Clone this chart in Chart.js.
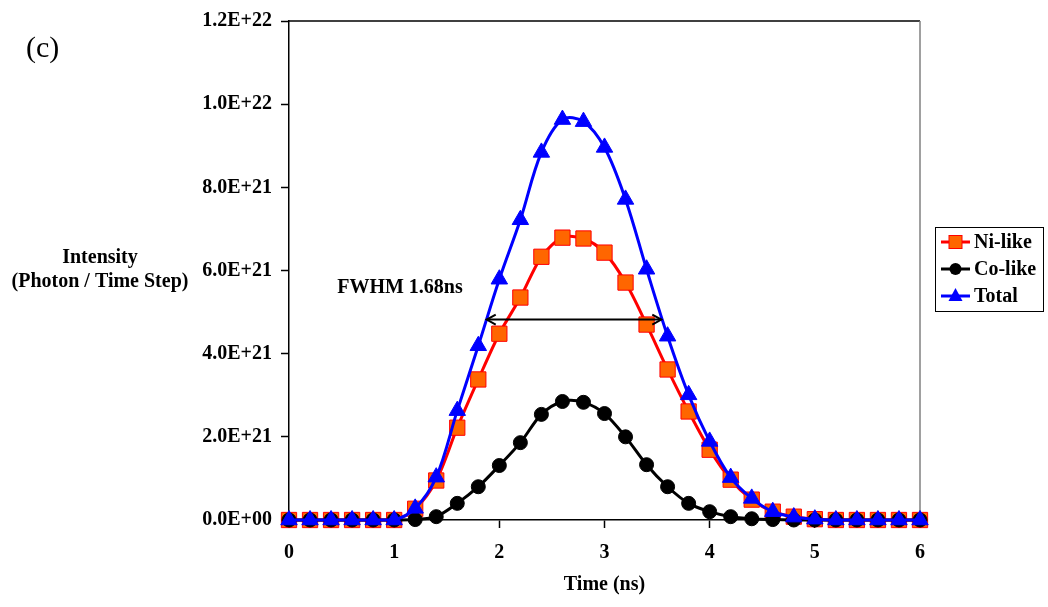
<!DOCTYPE html>
<html><head><meta charset="utf-8">
<script src="https://cdn.jsdelivr.net/npm/chart.js@4.4.1/dist/chart.umd.min.js"></script>
<style>html,body{margin:0;padding:0;background:#fff}</style>
</head><body>
<canvas id="c" width="1048" height="607"></canvas>
<script>
// Time (ns)
const times = [0,0.2,0.4,0.6,0.8,1.0,1.2,1.4,1.6,1.8,2.0,2.2,2.4,2.6,2.8,3.0,3.2,3.4,3.6,3.8,4.0,4.2,4.4,4.6,4.8,5.0,5.2,5.4,5.6,5.8,6.0];
// Intensity in units of 1E+21 photon / time step
const niLike = [0,0,0,0,0,0,0.27,0.95,2.22,3.38,4.48,5.35,6.33,6.79,6.77,6.43,5.71,4.70,3.62,2.61,1.69,0.97,0.49,0.20,0.08,0.02,0,0,0,0,0];
const coLike = [0,0,0,0,0,0,0.01,0.08,0.40,0.80,1.31,1.86,2.54,2.85,2.83,2.56,2.00,1.33,0.80,0.40,0.20,0.08,0.03,0.01,0,0,0,0,0,0,0];
const total  = [0,0,0,0,0,0,0.28,1.03,2.63,4.19,5.79,7.22,8.84,9.63,9.58,8.96,7.71,6.03,4.42,3.01,1.89,1.02,0.52,0.20,0.07,0.02,0,0,0,0,0];
const unit = 1e21;
const xTicks = [0,1,2,3,4,5,6];
const yTicks = [0,2e21,4e21,6e21,8e21,1e22,1.2e22];
const seriesNames = ['Ni-like','Co-like','Total'];
// FWHM annotation (ns, intensity)
const fwhmFrom = 1.88, fwhmTo = 3.54, fwhmLevel = 4.82e21;
const fwhmLabel = 'FWHM 1.68ns';

const pts = arr => times.map((t,i)=>({x:t, y:arr[i]*unit}));
function fmt(v){
  if (v === 0) return '0.0E+00';
  const e = Math.floor(Math.log10(v) + 1e-9);
  const m = v / Math.pow(10, e);
  return m.toFixed(1) + 'E+' + e;
}
const serif = 'Liberation Serif, Times New Roman, serif';

const decor = {
  id: 'decor',
  beforeDatasetsDraw(chart){
    const {ctx, chartArea:a} = chart;
    ctx.save();
    ctx.lineWidth = 1.5;
    ctx.strokeStyle = '#000';
    ctx.beginPath(); ctx.moveTo(a.left, a.top); ctx.lineTo(a.right, a.top); ctx.stroke();
    ctx.strokeStyle = '#808080';
    ctx.beginPath(); ctx.moveTo(a.right, a.top); ctx.lineTo(a.right, a.bottom); ctx.stroke();
    ctx.restore();
  },
  afterDatasetsDraw(chart){
    const {ctx, chartArea:a, scales:{x, y}} = chart;
    ctx.save();
    // FWHM arrow
    const x1 = x.getPixelForValue(fwhmFrom), x2 = x.getPixelForValue(fwhmTo), yy = y.getPixelForValue(fwhmLevel);
    ctx.strokeStyle = '#000'; ctx.lineWidth = 2;
    ctx.beginPath(); ctx.moveTo(x1, yy); ctx.lineTo(x2, yy); ctx.stroke();
    ctx.beginPath();
    ctx.moveTo(x1 + 9, yy - 5); ctx.lineTo(x1, yy); ctx.lineTo(x1 + 9, yy + 5);
    ctx.moveTo(x2 - 9, yy - 5); ctx.lineTo(x2, yy); ctx.lineTo(x2 - 9, yy + 5);
    ctx.stroke();

    ctx.fillStyle = '#000';
    ctx.textBaseline = 'middle';
    ctx.textAlign = 'center';
    ctx.font = 'bold 20px ' + serif;
    ctx.fillText(fwhmLabel, 400, 288);

    // axis titles
    ctx.fillText('Intensity', 100, 258);
    ctx.fillText('(Photon / Time Step)', 100, 282);
    ctx.fillText('Time (ns)', (a.left + a.right) / 2, 585);

    // panel label
    ctx.font = '30px ' + serif;
    ctx.textAlign = 'left';
    ctx.fillText('(c)', 26, 49);

    // legend
    ctx.lineWidth = 1;
    ctx.strokeStyle = '#000';
    ctx.strokeRect(935.5, 227.5, 108, 84);
    const rows = [242, 269, 296];
    chart.data.datasets.forEach((ds, i) => {
      const ry = rows[i];
      ctx.strokeStyle = ds.borderColor; ctx.lineWidth = 3;
      ctx.beginPath(); ctx.moveTo(941, ry); ctx.lineTo(970, ry); ctx.stroke();
      ctx.fillStyle = ds.pointBackgroundColor;
      ctx.strokeStyle = ds.pointBorderColor; ctx.lineWidth = 1;
      if (ds.pointStyle === 'rect') { ctx.fillRect(949, ry - 6.5, 13, 13); ctx.strokeRect(949, ry - 6.5, 13, 13); }
      else if (ds.pointStyle === 'circle') { ctx.beginPath(); ctx.arc(955.5, ry, 6, 0, Math.PI*2); ctx.fill(); }
      else { ctx.beginPath(); ctx.moveTo(955.5, ry - 8); ctx.lineTo(962.5, ry + 5); ctx.lineTo(948.5, ry + 5); ctx.closePath(); ctx.fill(); }
      ctx.fillStyle = '#000';
      ctx.font = 'bold 20px ' + serif;
      ctx.textAlign = 'left';
      ctx.fillText(ds.label, 974, ry + 1);
    });
    ctx.restore();
  }
};

new Chart(document.getElementById('c'), {
  type: 'line',
  data: {
    datasets: [
      { label: seriesNames[0], data: pts(niLike), borderColor: '#FF0000', backgroundColor: '#FF6600',
        pointBackgroundColor: '#FF6600', pointBorderColor: '#FF0000', pointBorderWidth: 1,
        pointStyle: 'rect', pointRadius: 10.8, borderWidth: 3, tension: 0.3, order: 3, clip: false },
      { label: seriesNames[1], data: pts(coLike), borderColor: '#000000', backgroundColor: '#000000',
        pointBackgroundColor: '#000000', pointBorderColor: '#000000', pointBorderWidth: 1,
        pointStyle: 'circle', pointRadius: 7, borderWidth: 3, tension: 0.3, order: 2, clip: false },
      { label: seriesNames[2], data: pts(total), borderColor: '#0000FF', backgroundColor: '#0000FF',
        pointBackgroundColor: '#0000FF', pointBorderColor: '#0000FF', pointBorderWidth: 1,
        pointStyle: 'triangle', pointRadius: 9.5, borderWidth: 3, tension: 0.35, order: 1, clip: false }
    ]
  },
  options: {
    responsive: false, animation: false, devicePixelRatio: 1,
    layout: { padding: { left: 0, right: 128, top: 18, bottom: 0 } },
    plugins: { legend: { display: false }, tooltip: { enabled: false } },
    elements: { point: { hoverRadius: 0 } },
    scales: {
      x: {
        type: 'linear', min: 0, max: 6,
        afterBuildTicks(s){ s.ticks = xTicks.map(v => ({value: v})); },
        ticks: { color: '#000', font: { family: serif, weight: 'bold', size: 20 }, padding: 13, maxRotation: 0 },
        grid: { drawOnChartArea: false, tickLength: 8, tickColor: '#000', tickWidth: 1.5 },
        border: { color: '#000', width: 1.5 },
        afterFit(s){ s.height = 87; }
      },
      y: {
        type: 'linear', min: 0, max: 1.2e22,
        afterBuildTicks(s){ s.ticks = yTicks.map(v => ({value: v})); },
        ticks: { color: '#000', font: { family: serif, weight: 'bold', size: 20 }, padding: 9, callback: fmt },
        grid: { drawOnChartArea: false, tickLength: 8, tickColor: '#000', tickWidth: 1.5 },
        border: { color: '#000', width: 1.5 },
        afterFit(s){ s.width = 289; }
      }
    }
  },
  plugins: [decor]
});
</script>
</body></html>
